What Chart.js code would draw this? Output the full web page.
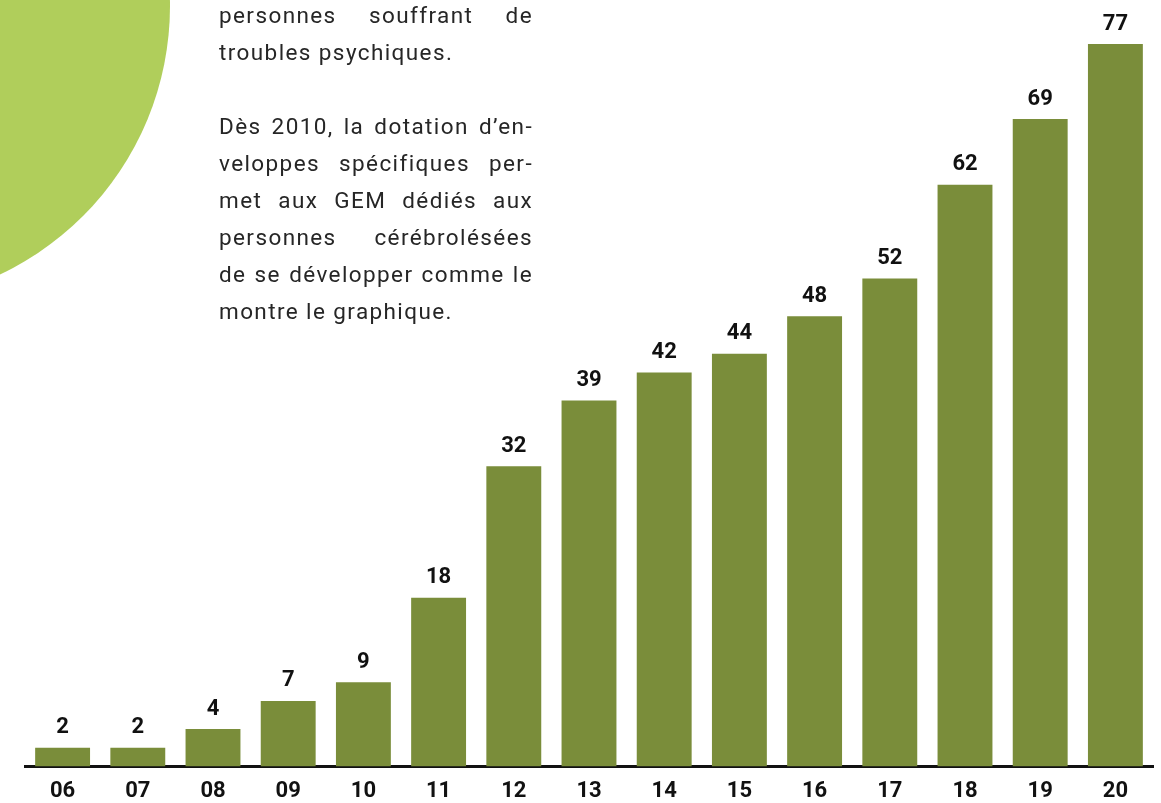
<!DOCTYPE html>
<html>
<head>
<meta charset="utf-8">
<script src="https://cdn.jsdelivr.net/npm/chart.js@4.4.1/dist/chart.umd.min.js"></script>
<style>
  html, body { margin: 0; padding: 0; background: #fff; overflow: hidden; }
  #wrap { position: relative; width: 1161px; height: 803px; }
  #rond {
    position: absolute; left: -424px; top: -291px;
    width: 594px; height: 594px; border-radius: 50%;
    background: #b0ce5b;
  }
  #myChart { position: absolute; left: 0; top: 0; }
  #texte {
    position: absolute; left: 219px; top: -3px; width: 314px;
    font-family: Roboto, "Open Sans", sans-serif; font-size: 22.5px;
    letter-spacing: 1.4px;
    line-height: 37px; color: #262626;
  }
  #texte .j { text-align: justify; text-align-last: justify; }
</style>
</head>
<body>
<div id="wrap">
  <div id="rond"></div>
  <canvas id="myChart" width="1161" height="803"></canvas>
  <div id="texte">
    <div class="j">personnes souffrant de</div>
    <div>troubles psychiques.</div>
    <div>&nbsp;</div>
    <div class="j">Dès 2010, la dotation d’en-</div>
    <div class="j">veloppes spécifiques per-</div>
    <div class="j">met aux GEM dédiés aux</div>
    <div class="j">personnes cérébrolésées</div>
    <div class="j">de se développer comme le</div>
    <div>montre le graphique.</div>
  </div>
</div>
<script>
// Données du graphique
const annees = ['06', '07', '08', '09', '10', '11', '12', '13', '14', '15', '16', '17', '18', '19', '20'];
const nombreGem = [2, 2, 4, 7, 9, 18, 32, 39, 42, 44, 48, 52, 62, 69, 77];

const ctx = document.getElementById('myChart');

// Plugin pour écrire la valeur au-dessus de chaque barre
const valeursPlugin = {
    id: 'valeurs',
    afterDatasetsDraw(chart) {
        const c = chart.ctx;
        const meta = chart.getDatasetMeta(0);
        c.save();
        c.font = 'bold 22px Roboto, sans-serif';
        c.fillStyle = '#111';
        c.textAlign = 'center';
        c.textBaseline = 'bottom';
        meta.data.forEach((bar, i) => {
            c.fillText(nombreGem[i], bar.x, bar.y - 9);
        });
        c.restore();
    }
};

new Chart(ctx, {
    type: 'bar',
    data: {
        labels: annees,
        datasets: [{
            data: nombreGem,
            backgroundColor: '#7a8d3a',
            categoryPercentage: 1,
            barPercentage: 0.73
        }]
    },
    options: {
        responsive: false,
        animation: false,
        layout: {
            padding: { left: 25, right: 8, top: 44, bottom: -14 }
        },
        plugins: {
            legend: { display: false },
            tooltip: { enabled: false }
        },
        scales: {
            x: {
                grid: { display: false, drawTicks: false },
                border: { display: true, color: '#111', width: 3 },
                ticks: {
                    color: '#111',
                    padding: 12,
                    font: { family: 'Roboto, sans-serif', size: 22, weight: 'bold' }
                }
            },
            y: {
                display: false,
                min: 0,
                max: 77
            }
        }
    },
    plugins: [valeursPlugin]
});
</script>
</body>
</html>
